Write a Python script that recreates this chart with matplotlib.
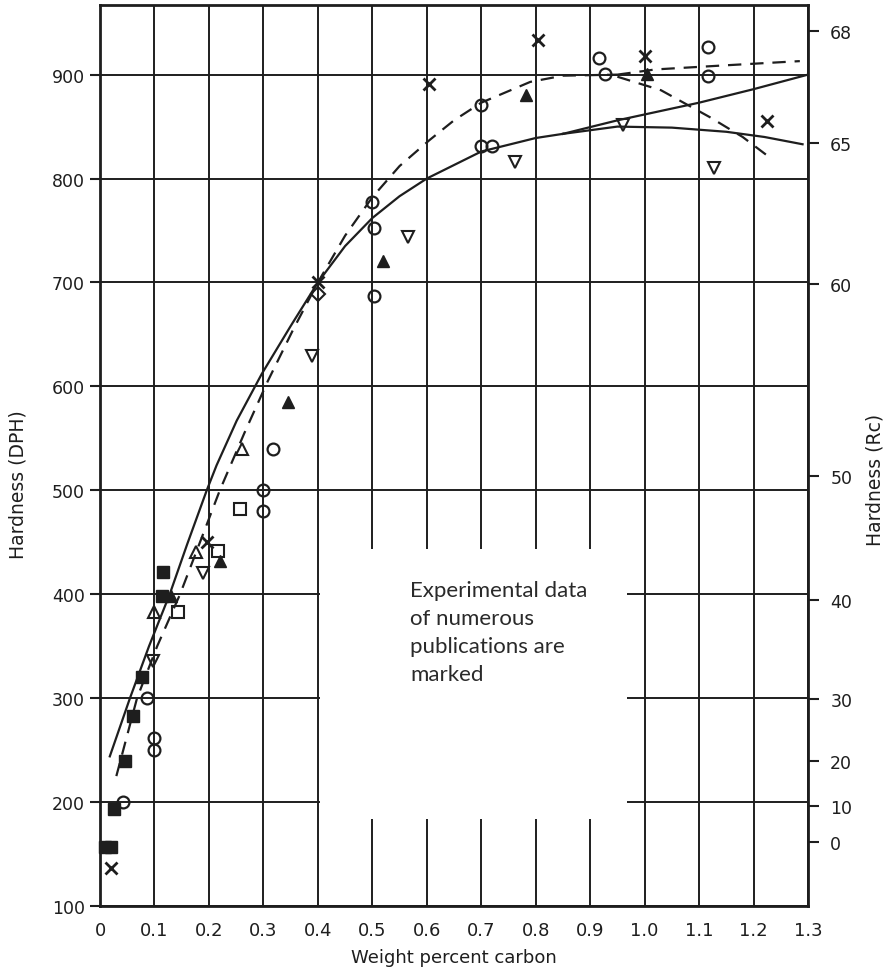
import numpy as np
import matplotlib.pyplot as plt
from matplotlib.patches import Rectangle

# ---- fitted curves ----
solid_x = [0.018, 0.055, 0.09, 0.128, 0.16, 0.196, 0.214, 0.251, 0.297, 0.35, 0.40, 0.45, 0.50, 0.55, 0.60, 0.70, 0.80, 0.85]
solid_y = [244, 300, 350, 400, 448, 500, 524, 567, 612, 658, 700, 735, 762, 783, 800, 826, 839, 843]
solid_up_x = [0.85, 0.95, 1.10, 1.20, 1.30]
solid_up_y = [843, 856, 873, 886, 900]
solid_lo_x = [0.85, 0.95, 1.05, 1.15, 1.22, 1.29]
solid_lo_y = [843, 850, 849, 845, 840, 833]

dash_x = [0.03, 0.068, 0.105, 0.147, 0.185, 0.22, 0.265, 0.308, 0.355, 0.40, 0.45, 0.50, 0.55, 0.605, 0.65, 0.70, 0.79, 0.85, 0.95]
dash_y = [225, 300, 350, 400, 452, 500, 555, 605, 655, 700, 745, 782, 812, 837, 856, 873, 893, 899, 900]
dash_up_x = [0.95, 1.02, 1.15, 1.285]
dash_up_y = [900, 905, 909, 913]
dash_lo_x = [0.95, 1.03, 1.12, 1.18, 1.233]
dash_lo_y = [898, 885, 859, 840, 819]

# ---- experimental points ----
sq_fill_x = [0.01, 0.02, 0.025, 0.046, 0.061, 0.077, 0.113, 0.116]
sq_fill_y = [157, 157, 193, 240, 283, 320, 398, 421]
tri_fill_x = [0.13, 0.22, 0.345, 0.52, 0.783, 1.004]
tri_fill_y = [398, 432, 585, 721, 880, 901]
circ_x = [0.042, 0.086, 0.10, 0.10, 0.30, 0.30, 0.318, 0.50, 0.503, 0.503, 0.70, 0.70, 0.72, 0.917, 0.927, 1.116, 1.116]
circ_y = [200, 300, 262, 250, 500, 480, 540, 777, 752, 687, 871, 831, 831, 916, 901, 927, 899]
tri_up_x = [0.10, 0.176, 0.26]
tri_up_y = [383, 441, 540]
tri_dn_x = [0.098, 0.19, 0.39, 0.565, 0.762, 0.96, 1.128]
tri_dn_y = [336, 420, 629, 744, 816, 852, 810]
sq_open_x = [0.143, 0.217, 0.257]
sq_open_y = [383, 442, 482]
cross_x = [0.02, 0.196, 0.40, 0.605, 0.804, 1.0, 1.224]
cross_y = [137, 450, 700, 891, 933, 918, 855]
diam_x = [0.40]
diam_y = [689]

xticks = np.arange(0, 1.31, 0.1)
xlabels = ['0', '0.1', '0.2', '0.3', '0.4', '0.5', '0.6', '0.7', '0.8', '0.9', '1.0', '1.1', '1.2', '1.3']
yticks = [100, 200, 300, 400, 500, 600, 700, 800, 900]
rc_labels = ['0', '10', '20', '30', '40', '50', '60', '65', '68']
rc_dph = [162, 196, 240, 299, 394, 514, 699, 834, 942]

plt.rcParams['font.family'] = 'DejaVu Sans'
ink = '#1e1e1e'

fig = plt.figure(figsize=(8.89, 9.70), dpi=100)
ax = fig.add_axes([100/889, 1-907/970, 708/889, 901/970])
ax.set_xlim(0, 1.3)
ax.set_ylim(100, 967)

ax.set_xticks(xticks)
ax.set_xticklabels(xlabels)
ax.set_yticks(yticks)
ax.tick_params(axis='x', length=0, pad=11, labelsize=13, colors=ink)
ax.tick_params(axis='y', length=7, width=1.5, pad=4, labelsize=12.5, colors=ink)
ax.grid(True, color=ink, lw=1.4)
ax.set_axisbelow(True)
for s in ax.spines.values():
    s.set_linewidth(2)
    s.set_color(ink)

# blank area for the note
ax.add_patch(Rectangle((0.404, 184), 0.967-0.404, 444-184, facecolor='white',
                       edgecolor='none', zorder=1))

lw = 1.6
ax.plot(solid_x, solid_y, '-', color=ink, lw=lw, zorder=3)
ax.plot(solid_up_x, solid_up_y, '-', color=ink, lw=lw, zorder=3)
ax.plot(solid_lo_x, solid_lo_y, '-', color=ink, lw=lw, zorder=3)
dsh = (0, (6, 4))
ax.plot(dash_x, dash_y, ls=dsh, color=ink, lw=lw, zorder=3)
ax.plot(dash_up_x, dash_up_y, ls=dsh, color=ink, lw=lw, zorder=3)
ax.plot(dash_lo_x, dash_lo_y, ls=dsh, color=ink, lw=lw, zorder=3)

mk = dict(ls='none', zorder=4, clip_on=False)
ax.plot(sq_fill_x, sq_fill_y, marker='s', ms=8, color=ink, **mk)
ax.plot(tri_fill_x, tri_fill_y, marker='^', ms=9, color=ink, **mk)
ax.plot(circ_x, circ_y, marker='o', ms=8.5, mfc='none', mec=ink, mew=1.6, **mk)
ax.plot(tri_up_x, tri_up_y, marker='^', ms=8, mfc='none', mec=ink, mew=1.5, **mk)
ax.plot(tri_dn_x, tri_dn_y, marker='v', ms=8, mfc='none', mec=ink, mew=1.5, **mk)
ax.plot(sq_open_x, sq_open_y, marker='s', ms=8, mfc='none', mec=ink, mew=1.5, **mk)
ax.plot(cross_x, cross_y, marker='x', ms=8.5, mec=ink, mew=2, **mk)
ax.plot(diam_x, diam_y, marker='D', ms=7, mfc='none', mec=ink, mew=1.5, **mk)

ax.text(0.569, 414, 'Experimental data\nof numerous\npublications are\nmarked',
        family='Lato', fontsize=16, color='#2a2a2a', ha='left', va='top',
        linespacing=1.5, zorder=5)

# right-hand Rockwell C scale
ax2 = ax.twinx()
ax2.set_ylim(ax.get_ylim())
ax2.set_yticks(rc_dph)
ax2.set_yticklabels(rc_labels)
ax2.tick_params(axis='y', length=8, width=1.5, pad=8, labelsize=12.5, colors=ink)
for s in ax2.spines.values():
    s.set_visible(False)

fig.text(18/889, 1-485/970, 'Hardness (DPH)', rotation=90, ha='center', va='center',
         fontsize=13.5, color=ink)
fig.text(875/889, 1-480/970, 'Hardness (Rc)', rotation=90, ha='center', va='center',
         fontsize=13.5, color=ink)
fig.text(454/889, 1-958/970, 'Weight percent carbon', ha='center', va='center',
         fontsize=13, color=ink)

fig.savefig('out.png', dpi=100)
